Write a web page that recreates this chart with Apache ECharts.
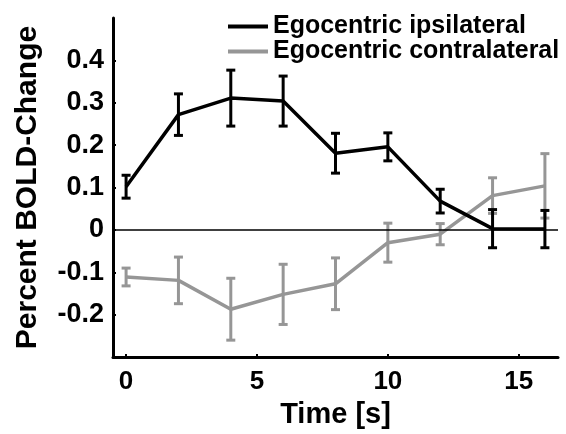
<!DOCTYPE html>
<html>
<head>
<meta charset="utf-8">
<script src="https://cdn.jsdelivr.net/npm/echarts@6/dist/echarts.min.js"></script>
<style>
html,body{margin:0;padding:0;background:#fff;}
#c{width:566px;height:434px;}
</style>
</head>
<body>
<div id="c"></div>
<script>
const times = [0, 2, 4, 6, 8, 10, 12, 14, 16];
const ipsiMean = [0.102, 0.272, 0.311, 0.304, 0.181, 0.196, 0.068, 0.003, 0.002];
const ipsiErr = [0.027, 0.049, 0.066, 0.059, 0.047, 0.033, 0.028, 0.045, 0.044];
const contraMean = [-0.111, -0.119, -0.187, -0.152, -0.127, -0.030, -0.010, 0.081, 0.104];
const contraErr = [0.021, 0.055, 0.073, 0.071, 0.061, 0.046, 0.025, 0.042, 0.076];
const xTicks = [0, 5, 10, 15];
const yTicks = [-0.2, -0.1, 0, 0.1, 0.2, 0.3, 0.4];
const seriesNames = ['Egocentric ipsilateral', 'Egocentric contralateral'];

const FONT = '"Liberation Sans", Arial, Helvetica, sans-serif';
const BLACK = '#000000';
const GRAY = '#969696';

function lineData(mean) { return times.map((t, i) => [t, mean[i]]); }
function errData(mean, err) { return times.map((t, i) => [t, mean[i] - err[i], mean[i] + err[i]]); }

function errRender(color) {
  return function (params, api) {
    const x = api.value(0);
    const p1 = api.coord([x, api.value(1)]);
    const p2 = api.coord([x, api.value(2)]);
    const hw = 4.5;
    const style = { stroke: color, lineWidth: 3 };
    return {
      type: 'group',
      children: [
        { type: 'line', shape: { x1: p1[0], y1: p1[1], x2: p2[0], y2: p2[1] }, style: style },
        { type: 'line', shape: { x1: p1[0] - hw, y1: p1[1], x2: p1[0] + hw, y2: p1[1] }, style: style },
        { type: 'line', shape: { x1: p2[0] - hw, y1: p2[1], x2: p2[0] + hw, y2: p2[1] }, style: style }
      ]
    };
  };
}

const chart = echarts.init(document.getElementById('c'), null, { renderer: 'canvas' });
chart.setOption({
  animation: false,
  backgroundColor: '#fff',
  grid: { left: 113, right: 8, top: 18, bottom: 68, containLabel: false },
  legend: {
    orient: 'vertical',
    left: 223,
    top: 9,
    itemWidth: 40,
    itemHeight: 4,
    itemGap: 0,
    icon: 'rect',
    data: seriesNames,
    textStyle: { fontFamily: FONT, fontWeight: 'bold', fontSize: 25, color: '#000', lineHeight: 23, padding: [0, 0, 0, 0] }
  },
  xAxis: {
    type: 'value',
    min: -0.5,
    max: 16.5,
    name: 'Time [s]',
    nameLocation: 'middle',
    nameGap: 33,
    nameTextStyle: { fontFamily: FONT, fontWeight: 'bold', fontSize: 29, color: '#000' },
    axisLine: { onZero: false, lineStyle: { color: '#000', width: 3 } },
    axisTick: { show: true, inside: true, length: 3, lineStyle: { color: '#000', width: 2 }, customValues: xTicks },
    axisLabel: { fontFamily: FONT, fontWeight: 'bold', fontSize: 26, color: '#000', margin: 12, customValues: xTicks },
    splitLine: { show: false }
  },
  yAxis: {
    type: 'value',
    min: -0.3,
    max: 0.5,
    name: 'Percent BOLD-Change',
    nameLocation: 'middle',
    nameGap: 70,
    nameTextStyle: { fontFamily: FONT, fontWeight: 'bold', fontSize: 30, color: '#000' },
    axisLine: { onZero: false, lineStyle: { color: '#000', width: 3 } },
    axisTick: { show: true, inside: true, length: 3, lineStyle: { color: '#000', width: 2 }, customValues: yTicks },
    axisLabel: { fontFamily: FONT, fontWeight: 'bold', fontSize: 27, color: '#000', margin: 9, customValues: yTicks,
      formatter: v => (Math.abs(v) < 1e-9 ? '0' : String(Math.round(v * 10) / 10)) },
    splitLine: { show: false }
  },
  series: [
    {
      name: seriesNames[1],
      type: 'line',
      data: lineData(contraMean),
      symbol: 'none',
      color: GRAY,
      lineStyle: { color: GRAY, width: 3.5 },
      z: 2,
      markLine: {
        silent: true,
        symbol: 'none',
        label: { show: false },
        lineStyle: { color: '#000', width: 1.5, type: 'solid' },
        data: [{ yAxis: 0 }]
      }
    },
    {
      name: 'contraErr',
      type: 'custom',
      data: errData(contraMean, contraErr),
      renderItem: errRender(GRAY),
      encode: { x: 0, y: [1, 2] },
      z: 2
    },
    {
      name: seriesNames[0],
      type: 'line',
      data: lineData(ipsiMean),
      symbol: 'none',
      color: BLACK,
      lineStyle: { color: BLACK, width: 3.5 },
      z: 3
    },
    {
      name: 'ipsiErr',
      type: 'custom',
      data: errData(ipsiMean, ipsiErr),
      renderItem: errRender(BLACK),
      encode: { x: 0, y: [1, 2] },
      z: 3
    }
  ]
});
</script>
</body>
</html>
